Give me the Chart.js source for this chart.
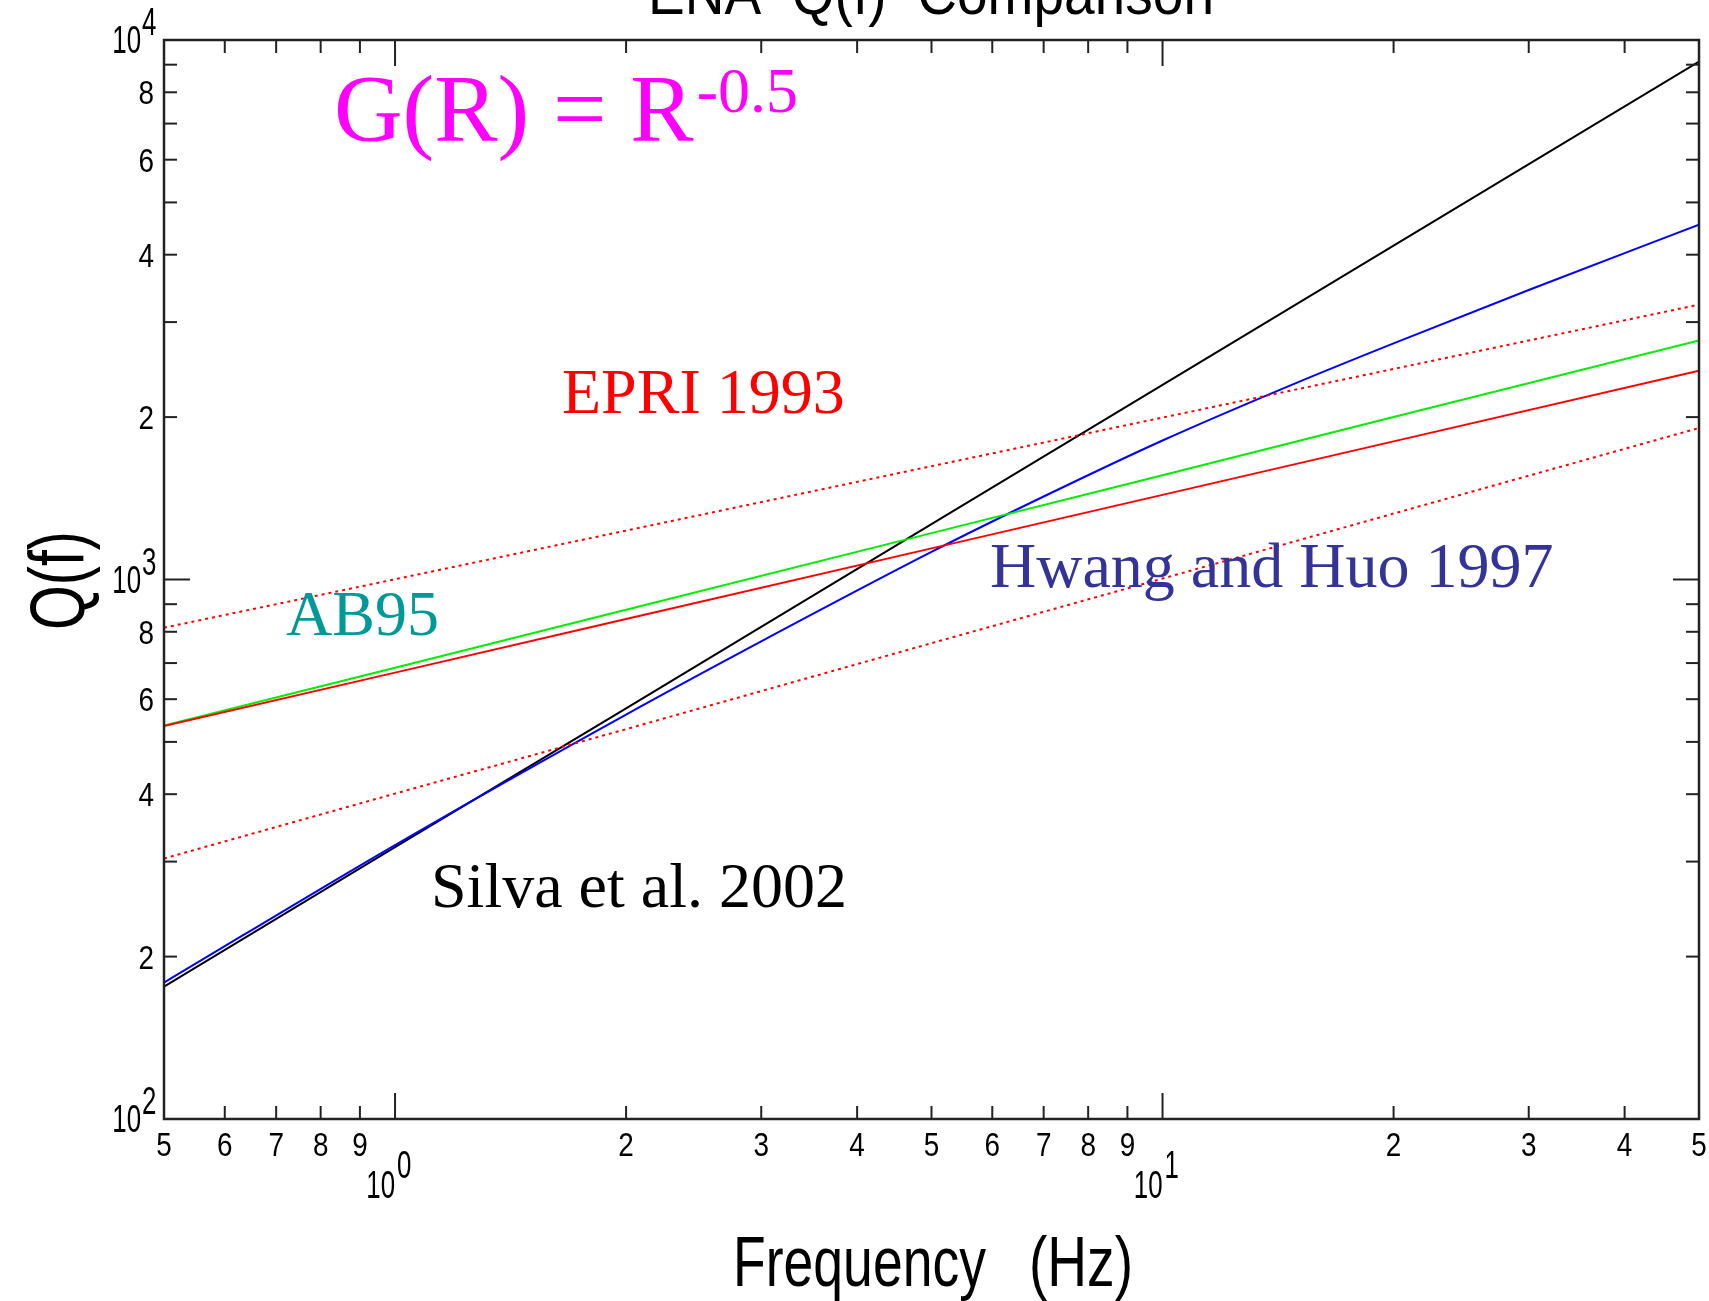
<!DOCTYPE html>
<html>
<head>
<meta charset="utf-8">
<script src="https://cdn.jsdelivr.net/npm/chart.js@4.4.1/dist/chart.umd.min.js"></script>
<style>
  html, body { margin: 0; padding: 0; background: #fff; }
  #chart { display: block; }
</style>
</head>
<body>
<canvas id="chart" width="1709" height="1301" style="width:1709px;height:1301px"></canvas>
<script>
// Q(f), frequency in Hz
const freqs = [0.5, 1, 2, 5, 10, 20, 50];
const qSilva = [176, 319, 577, 1267, 2295, 4159, 9120];
const qAB95 = [536, 686, 879, 1219, 1561, 2000, 2775];
const qEPRI = [535, 672, 845, 1142, 1435, 1803, 2438];
const qEPRIUpper = [814, 1001, 1232, 1622, 1996, 2456, 3232];
const qEPRILower = [304, 401, 528, 762, 1004, 1325, 1909];
const freqsHH = [0.5, 1, 2, 3, 5, 7, 10, 15, 20, 30, 50];
const qHwangHuo = [179, 322, 562, 768, 1125, 1425, 1810, 2320, 2740, 3440, 4546];

// axis ticks
const xMinorTicks = [0.5, 0.6, 0.7, 0.8, 0.9, 2, 3, 4, 5, 6, 7, 8, 9, 20, 30, 40, 50];
const xMinorLabels = ['5', '6', '7', '8', '9', '2', '3', '4', '5', '6', '7', '8', '9', '2', '3', '4', '5'];
const xMajorTicks = [1, 10];
const xMajorExps = ['0', '1'];
const yMinorTicks = [200, 300, 400, 500, 600, 700, 800, 900, 2000, 3000, 4000, 5000, 6000, 7000, 8000, 9000];
const yMinorLabels = ['2', '', '4', '', '6', '', '8', '', '2', '', '4', '', '6', '', '8', ''];
const yMajorTicks = [100, 1000, 10000];
const yMajorExps = ['2', '3', '4'];

const pts = (xs, ys) => xs.map((x, i) => ({x, y: ys[i]}));

const AXIS = '#222';
const SANS = '"Liberation Sans", "DejaVu Sans", sans-serif';
const SERIF = '"Liberation Serif", "DejaVu Serif", serif';

function squeezed(ctx, text, x, y, font, sx, align) {
  ctx.save();
  ctx.font = font;
  const w = ctx.measureText(text).width * sx;
  let left = x;
  if (align === 'right') left = x - w;
  else if (align === 'center') left = x - w / 2;
  ctx.translate(left, y);
  ctx.scale(sx, 1);
  ctx.textAlign = 'left';
  ctx.fillText(text, 0, 0);
  ctx.restore();
}

function fitText(ctx, text, x, y, font, width) {
  ctx.save();
  ctx.font = font;
  const sx = width / ctx.measureText(text).width;
  ctx.translate(x, y);
  ctx.scale(sx, 1);
  ctx.textAlign = 'left';
  ctx.fillText(text, 0, 0);
  ctx.restore();
}

const frame = {
  id: 'frame',
  beforeDraw(chart) {
    const {ctx} = chart;
    ctx.save();
    ctx.fillStyle = '#fff';
    ctx.fillRect(0, 0, chart.width, chart.height);
    ctx.restore();
  },
  afterDraw(chart) {
    const {ctx, chartArea: a} = chart;
    const xs = chart.scales.x, ys = chart.scales.y;
    ctx.save();
    ctx.strokeStyle = AXIS;
    ctx.fillStyle = '#000';
    ctx.lineWidth = 2;
    ctx.lineCap = 'butt';

    // ticks on all four sides, pointing inward
    const tick = (x1, y1, x2, y2) => { ctx.beginPath(); ctx.moveTo(x1, y1); ctx.lineTo(x2, y2); ctx.stroke(); };
    xMinorTicks.forEach(v => {
      const px = xs.getPixelForValue(v);
      tick(px, a.bottom, px, a.bottom - 13);
      tick(px, a.top, px, a.top + 13);
    });
    xMajorTicks.forEach(v => {
      const px = xs.getPixelForValue(v);
      tick(px, a.bottom, px, a.bottom - 26);
      tick(px, a.top, px, a.top + 26);
    });
    yMinorTicks.forEach(v => {
      const py = ys.getPixelForValue(v);
      tick(a.left, py, a.left + 13, py);
      tick(a.right, py, a.right - 13, py);
    });
    yMajorTicks.forEach(v => {
      const py = ys.getPixelForValue(v);
      tick(a.left, py, a.left + 26, py);
      tick(a.right, py, a.right - 26, py);
    });

    // box
    ctx.lineWidth = 2.5;
    ctx.strokeRect(a.left, a.top, a.right - a.left, a.bottom - a.top);

    // tick labels
    ctx.fillStyle = '#000';
    const digitFont = `34px ${SANS}`;
    const decFont = `38px ${SANS}`;
    xMinorTicks.forEach((v, i) => {
      squeezed(ctx, xMinorLabels[i], xs.getPixelForValue(v), a.bottom + 37, digitFont, 0.82, 'center');
    });
    xMajorTicks.forEach((v, i) => {
      const px = xs.getPixelForValue(v);
      squeezed(ctx, '10', px, a.bottom + 79, decFont, 0.68, 'right');
      squeezed(ctx, xMajorExps[i], px + 2, a.bottom + 59, decFont, 0.68, 'left');
    });
    yMinorTicks.forEach((v, i) => {
      if (!yMinorLabels[i]) return;
      squeezed(ctx, yMinorLabels[i], a.left - 10, ys.getPixelForValue(v) + 12, digitFont, 0.82, 'right');
    });
    yMajorTicks.forEach((v, i) => {
      const py = ys.getPixelForValue(v);
      squeezed(ctx, '10', a.left - 23, py + 13, decFont, 0.68, 'right');
      squeezed(ctx, yMajorExps[i], a.left - 22, py - 5, decFont, 0.68, 'left');
    });

    // axis titles and (clipped) plot title
    fitText(ctx, 'Frequency', 733, 1286, `70px ${SANS}`, 253);
    fitText(ctx, '(Hz)', 1029, 1286, `70px ${SANS}`, 104);
    fitText(ctx, 'ENA  Q(f)  Comparison', 648, 14, `62px ${SANS}`, 566);
    ctx.save();
    ctx.translate(84, 630);
    ctx.rotate(-Math.PI / 2);
    fitText(ctx, 'Q(f)', 0, 0, `78px ${SANS}`, 99);
    ctx.restore();

    // annotations
    ctx.fillStyle = '#ff00ff';
    ctx.font = `95px ${SERIF}`;
    ctx.textAlign = 'left';
    ctx.fillText('G(R) = R', 334, 141);
    const gw = ctx.measureText('G(R) = R').width;
    ctx.font = `64px ${SERIF}`;
    ctx.fillText('-0.5', 334 + gw + 3, 112);

    ctx.font = `64px ${SERIF}`;
    ctx.fillStyle = '#ff0000';
    ctx.fillText('EPRI 1993', 562, 413);
    ctx.fillStyle = '#009999';
    ctx.fillText('AB95', 286, 635);
    ctx.fillStyle = '#333399';
    ctx.fillText('Hwang and Huo 1997', 990, 587);
    ctx.fillStyle = '#000';
    ctx.fillText('Silva et al. 2002', 431, 907);
    ctx.restore();
  }
};

const line = (data, color, dash, smooth) => ({
  data, borderColor: color, borderWidth: 2, borderDash: dash || [],
  pointRadius: 0, tension: 0, fill: false,
  cubicInterpolationMode: smooth ? 'monotone' : 'default'
});

new Chart(document.getElementById('chart'), {
  type: 'line',
  data: {
    datasets: [
      line(pts(freqs, qEPRIUpper), '#ff0000', [3, 4]),
      line(pts(freqs, qEPRILower), '#ff0000', [3, 4]),
      line(pts(freqs, qEPRI), '#ff0000'),
      line(pts(freqs, qAB95), '#00ee00'),
      line(pts(freqsHH, qHwangHuo), '#0000ff', null, true),
      line(pts(freqs, qSilva), '#000000')
    ]
  },
  options: {
    responsive: false,
    animation: false,
    events: [],
    layout: {padding: {left: 164, right: 10, top: 40, bottom: 182}},
    plugins: {legend: {display: false}, tooltip: {enabled: false}},
    scales: {
      x: {
        type: 'logarithmic', min: 0.5, max: 50,
        ticks: {display: false}, grid: {display: false}, border: {display: false},
        afterFit: s => { s.height = 0; }
      },
      y: {
        type: 'logarithmic', min: 100, max: 10000,
        ticks: {display: false}, grid: {display: false}, border: {display: false},
        afterFit: s => { s.width = 0; }
      }
    }
  },
  plugins: [frame]
});
</script>
</body>
</html>
